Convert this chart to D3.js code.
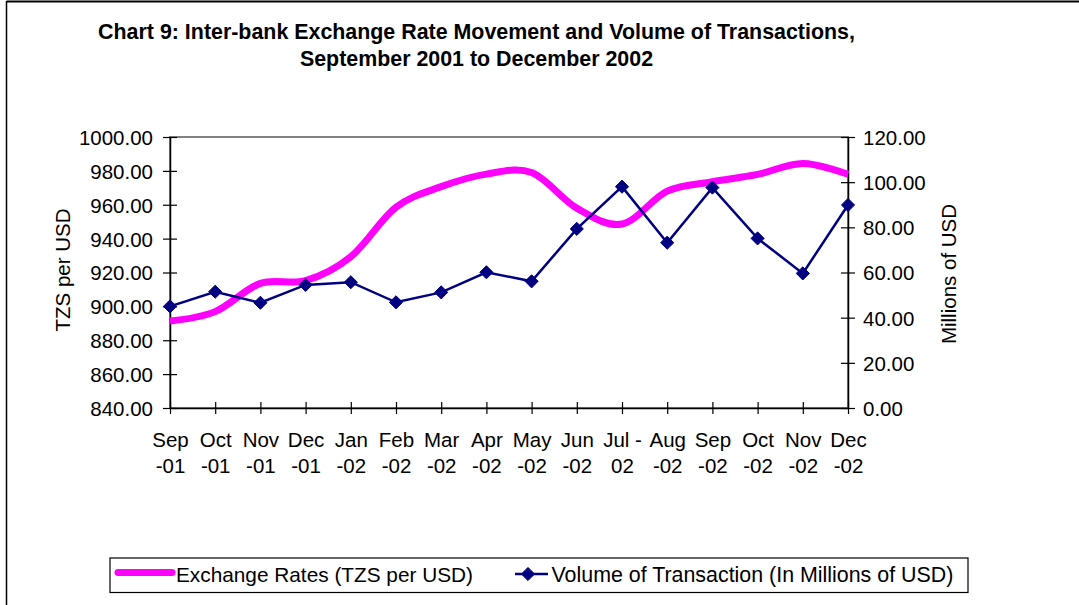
<!DOCTYPE html>
<html>
<head>
<meta charset="utf-8">
<script src="https://cdn.jsdelivr.net/npm/d3@7"></script>
<style>
  html, body { margin: 0; padding: 0; background: #fff; }
  svg { display: block; }
  text { font-family: "Liberation Sans", Arial, sans-serif; fill: #000; }
</style>
</head>
<body>
<svg id="chart" width="1079" height="605"></svg>
<script>
// ---- data ----
const months = ["Sep-01","Oct-01","Nov-01","Dec-01","Jan-02","Feb-02","Mar-02","Apr-02","May-02","Jun-02","Jul-02","Aug-02","Sep-02","Oct-02","Nov-02","Dec-02"];
const labelLine1 = ["Sep","Oct","Nov","Dec","Jan","Feb","Mar","Apr","May","Jun","Jul -","Aug","Sep","Oct","Nov","Dec"];
const labelLine2 = ["-01","-01","-01","-01","-02","-02","-02","-02","-02","-02","02","-02","-02","-02","-02","-02"];
const exchangeRates = [891.4, 896.9, 913.6, 915.2, 929.3, 958.5, 970.7, 978.1, 979.0, 958.0, 948.6, 968.0, 973.6, 977.9, 984.4, 978.0];
const volume = [45.0, 51.5, 46.6, 54.5, 55.7, 46.8, 51.2, 60.1, 56.1, 79.3, 98.0, 73.2, 97.6, 75.1, 59.6, 89.9];
const leftTicks = [840, 860, 880, 900, 920, 940, 960, 980, 1000];
const rightTicks = [0, 20, 40, 60, 80, 100, 120];
const titleLines = ["Chart 9: Inter-bank Exchange Rate Movement and Volume of Transactions,", "September 2001 to December 2002"];
const seriesNames = ["Exchange Rates (TZS per USD)", "Volume of Transaction (In Millions of USD)"];
const leftAxisTitle = "TZS per USD";
const rightAxisTitle = "Millions of USD";

// ---- layout ----
const svg = d3.select("#chart");
const plot = { left: 170, right: 848, top: 137, bottom: 408 };
const fs = 20.5;

const x = d3.scalePoint().domain(months).range([plot.left, plot.right]);
const yL = d3.scaleLinear().domain([840, 1000]).range([plot.bottom, plot.top]);
const yR = d3.scaleLinear().domain([0, 120]).range([plot.bottom, plot.top]);

// outer frame lines
svg.append("line").attr("x1", 6.5).attr("x2", 1079).attr("y1", 1.5).attr("y2", 1.5)
  .attr("stroke", "#000").attr("stroke-width", 2);
svg.append("line").attr("x1", 6.5).attr("x2", 6.5).attr("y1", 1).attr("y2", 605)
  .attr("stroke", "#000").attr("stroke-width", 1.5);

// title
svg.append("g").selectAll("text").data(titleLines).join("text")
  .attr("x", 476.5).attr("y", (d, i) => 38.5 + i * 27)
  .attr("text-anchor", "middle")
  .style("font-weight", "bold").style("font-size", "21.4px")
  .text(d => d);

// plot area border
svg.append("rect").attr("x", plot.left).attr("y", plot.top)
  .attr("width", plot.right - plot.left).attr("height", plot.bottom - plot.top)
  .attr("fill", "none").attr("stroke", "#808080").attr("stroke-width", 2);

// axes
function styleAxis(g) {
  g.selectAll("path").attr("stroke", "#000").attr("stroke-width", 1.5);
  g.selectAll(".tick line").attr("stroke", "#000").attr("stroke-width", 1.2);
  g.selectAll("text").style("font-size", fs + "px").style("font-family", "'Liberation Sans', Arial, sans-serif").attr("fill", "#000");
}

const gL = svg.append("g").attr("transform", `translate(${plot.left},0)`)
  .call(d3.axisLeft(yL).tickValues(leftTicks).tickFormat(d3.format(".2f")).tickSizeInner(7).tickSizeOuter(0).tickPadding(10));
gL.selectAll(".tick line").attr("x2", 7).attr("x1", -7);
gL.selectAll(".tick text").attr("x", -17).attr("dy", "0.36em");
styleAxis(gL);

const gR = svg.append("g").attr("transform", `translate(${plot.right},0)`)
  .call(d3.axisRight(yR).tickValues(rightTicks).tickFormat(d3.format(".2f")).tickSizeInner(7).tickSizeOuter(0));
gR.selectAll(".tick line").attr("x1", -7).attr("x2", 7);
gR.selectAll(".tick text").attr("x", 15).attr("dy", "0.36em");
styleAxis(gR);

const gB = svg.append("g").attr("transform", `translate(0,${plot.bottom})`)
  .call(d3.axisBottom(x).tickSizeInner(6).tickSizeOuter(0).tickFormat(() => ""));
gB.selectAll(".tick line").attr("y1", -6).attr("y2", 6);
styleAxis(gB);
gB.selectAll(".tick").each(function(d, i) {
  const t = d3.select(this);
  t.append("text").attr("y", 39).attr("text-anchor", "middle").style("font-size", fs + "px").text(labelLine1[i]);
  t.append("text").attr("y", 65).attr("text-anchor", "middle").style("font-size", fs + "px").text(labelLine2[i]);
});

// axis titles
svg.append("text").attr("transform", "translate(69.5,270) rotate(-90)")
  .attr("text-anchor", "middle").style("font-size", fs + "px").text(leftAxisTitle);
svg.append("text").attr("transform", "translate(956,274) rotate(-90)")
  .attr("text-anchor", "middle").style("font-size", fs + "px").text(rightAxisTitle);

// exchange rate smooth line
const lineEx = d3.line().x((d, i) => x(months[i])).y(d => yL(d)).curve(d3.curveCatmullRom.alpha(0));
svg.append("path").datum(exchangeRates).attr("d", lineEx)
  .attr("fill", "none").attr("stroke", "#FF00FF").attr("stroke-width", 7).attr("stroke-linecap", "butt");

// volume line
const lineVol = d3.line().x((d, i) => x(months[i])).y(d => yR(d));
svg.append("path").datum(volume).attr("d", lineVol)
  .attr("fill", "none").attr("stroke", "#000080").attr("stroke-width", 2.5);
const diamond = d3.symbol().type(d3.symbolDiamond2).size(110);
svg.append("g").selectAll("path").data(volume).join("path")
  .attr("transform", (d, i) => `translate(${x(months[i])},${yR(d)})`)
  .attr("d", diamond).attr("fill", "#000080").attr("stroke", "#000080").attr("stroke-width", 1);

// legend
const lg = svg.append("g");
lg.append("rect").attr("x", 110).attr("y", 558).attr("width", 858).attr("height", 34.5)
  .attr("fill", "#fff").attr("stroke", "#000").attr("stroke-width", 1.2);
lg.append("line").attr("x1", 118).attr("x2", 172).attr("y1", 572.5).attr("y2", 572.5)
  .attr("stroke", "#FF00FF").attr("stroke-width", 7).attr("stroke-linecap", "round");
lg.append("text").attr("x", 176).attr("y", 582).style("font-size", "20.8px").text(seriesNames[0]);
lg.append("line").attr("x1", 515).attr("x2", 548).attr("y1", 574).attr("y2", 574)
  .attr("stroke", "#000080").attr("stroke-width", 2.5);
lg.append("path").attr("transform", "translate(528,574)").attr("d", diamond)
  .attr("fill", "#000080").attr("stroke", "#000080").attr("stroke-width", 1);
lg.append("text").attr("x", 551.5).attr("y", 582).style("font-size", "21.4px").text(seriesNames[1]);
</script>
</body>
</html>
